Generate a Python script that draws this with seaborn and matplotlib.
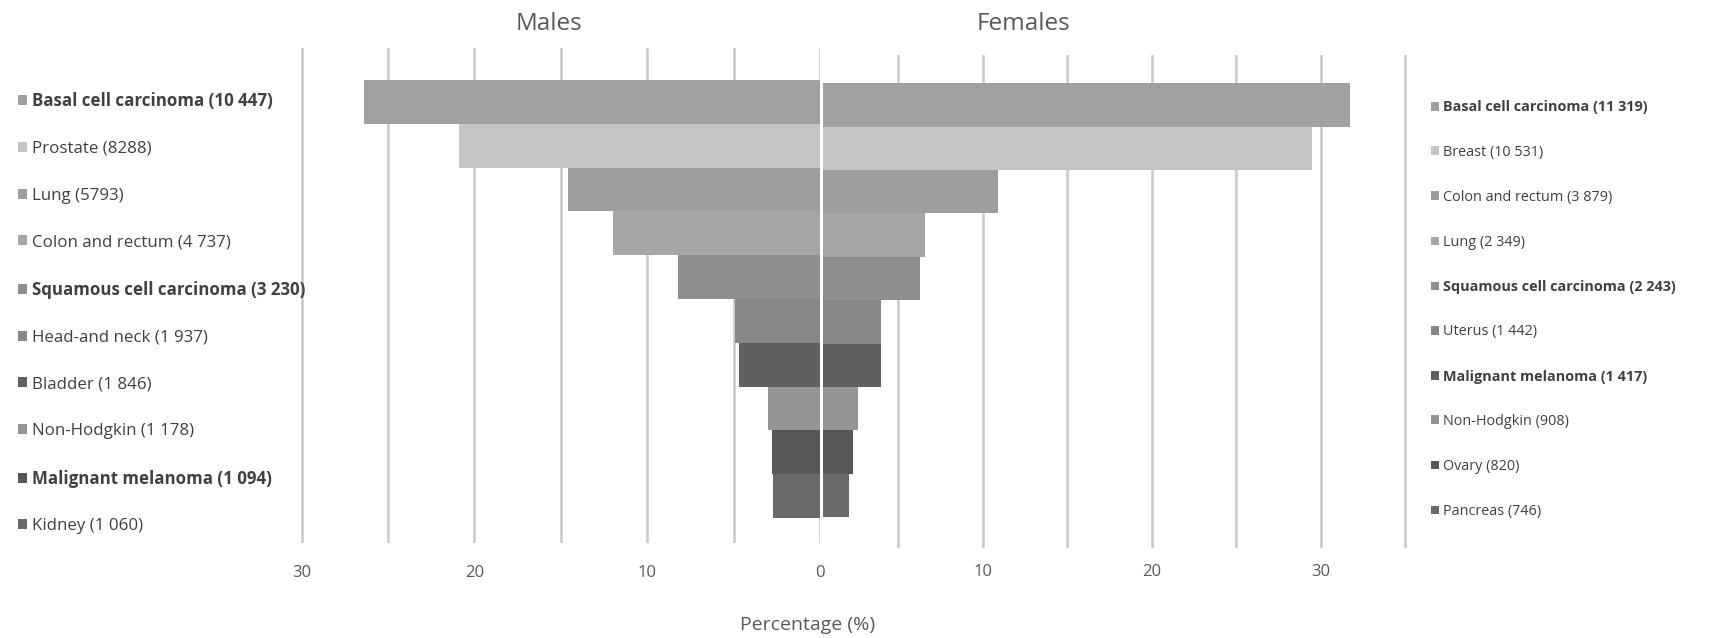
import seaborn as sns
import matplotlib.pyplot as plt
from matplotlib.patches import Patch
from matplotlib.ticker import FuncFormatter

# Data (percent of all cancers per sex)
male_labels = ["Basal cell carcinoma (10 447)", "Prostate (8288)", "Lung (5793)",
               "Colon and rectum (4 737)", "Squamous cell carcinoma (3 230)",
               "Head-and neck (1 937)", "Bladder (1 846)", "Non-Hodgkin (1 178)",
               "Malignant melanoma (1 094)", "Kidney (1 060)"]
male_pct = [26.4, 20.9, 14.6, 12.0, 8.2, 4.9, 4.7, 3.0, 2.8, 2.7]

female_labels = ["Basal cell carcinoma (11 319)", "Breast (10 531)", "Colon and rectum (3 879)",
                 "Lung (2 349)", "Squamous cell carcinoma (2 243)", "Uterus (1 442)",
                 "Malignant melanoma (1 417)", "Non-Hodgkin (908)", "Ovary (820)",
                 "Pancreas (746)"]
female_pct = [31.7, 29.5, 10.9, 6.6, 6.3, 4.0, 4.0, 2.6, 2.3, 2.1]

bold_rows_m = [0, 4, 8]
bold_rows_f = [0, 4, 6]

row_colors = ["#a0a0a0", "#c4c4c4", "#9d9d9d", "#a6a6a6", "#8f8f8f",
              "#878787", "#606060", "#949494", "#585858", "#6a6a6a"]

sns.set_theme(style="white")
plt.rcParams["font.family"] = ["Open Sans", "DejaVu Sans"]
text_col = "#404040"
tick_col = "#595959"
grid_col = "#c8c8c8"

W, H = 1713, 638
fig = plt.figure(figsize=(W / 100, H / 100), dpi=100)

ax_m = fig.add_axes([300 / W, 1 - 543 / H, (820 - 300) / W, 495 / H])
ax_f = fig.add_axes([823 / W, 1 - 548 / H, (1407 - 823) / W, 493 / H])

sns.barplot(x=male_pct, y=male_labels, hue=male_labels, palette=row_colors,
            width=1.0, orient="h", legend=False, ax=ax_m, saturation=1,
            edgecolor="none", linewidth=0)
sns.barplot(x=female_pct, y=female_labels, hue=female_labels, palette=row_colors,
            width=1.0, orient="h", legend=False, ax=ax_f, saturation=1,
            edgecolor="none", linewidth=0)

ax_m.set_xlim(30.1, 0)
ax_m.set_ylim(10.07, -1.23)
ax_f.set_xlim(0.55, 35.1)
ax_f.set_ylim(10.21, -1.15)

fmt = FuncFormatter(lambda v, p: f"{int(round(v))}" if round(v) % 10 == 0 else "")
for ax, ticks, pad in [(ax_m, range(0, 31, 5), 15.5), (ax_f, range(5, 36, 5), 11.5)]:
    ax.set_xticks(list(ticks))
    ax.xaxis.set_major_formatter(fmt)
    ax.set_yticks([])
    ax.set_xlabel("")
    ax.set_ylabel("")
    ax.tick_params(axis="x", length=0, pad=pad, labelsize=12, labelcolor=tick_col)
    ax.grid(axis="x", color=grid_col, linewidth=1.8)
    ax.set_axisbelow(True)
    for s in ax.spines.values():
        s.set_visible(False)
    ax.patch.set_alpha(0)

fig.text(549.5 / W, 1 - 24 / H, "Males", ha="center", va="center", fontsize=17.5, color=tick_col)
fig.text(1023.6 / W, 1 - 24 / H, "Females", ha="center", va="center", fontsize=17.5, color=tick_col)
fig.text(808 / W, 1 - 625 / H, "Percentage (%)", ha="center", va="center", fontsize=14, color=tick_col)

# side legends
for labels, bold_rows, x0, y0, fs, sp in [(male_labels, bold_rows_m, 18, 92.3, 12.2, 1.81),
                                          (female_labels, bold_rows_f, 1431, 100.5, 10.4, 2.09)]:
    handles = [Patch(facecolor=c, edgecolor="none") for c in row_colors]
    leg = fig.legend(handles, labels, loc="upper left", bbox_to_anchor=(x0 / W, 1 - y0 / H),
                     frameon=False, fontsize=fs, labelspacing=sp, handlelength=0.55,
                     handleheight=0.55, handletextpad=0.3, borderpad=0, borderaxespad=0)
    for i, t in enumerate(leg.get_texts()):
        t.set_color(text_col)
        if i in bold_rows:
            t.set_fontweight("bold")

fig.savefig("out.png", dpi=100)
